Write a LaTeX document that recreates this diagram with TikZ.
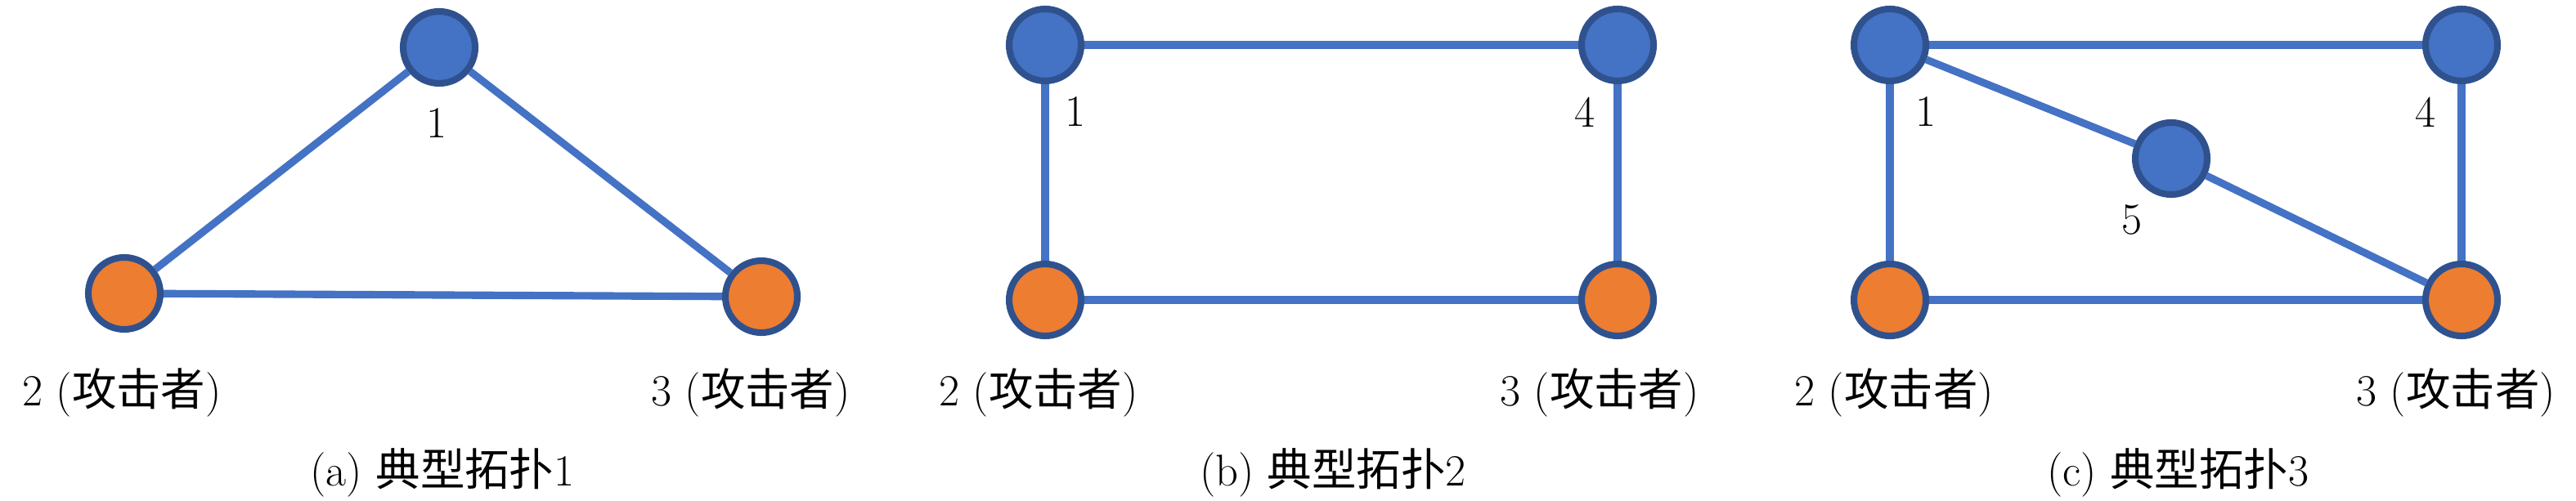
\documentclass[tikz,border=0pt]{standalone}
\usepackage{fontspec}
\newfontfamily\cjk{Noto Sans CJK SC}
\usepackage{tikz}
\usetikzlibrary{shapes.geometric, positioning, backgrounds}
\definecolor{nodeblue}{HTML}{4472C4}
\definecolor{rimblue}{HTML}{2F528F}
\definecolor{nodeorange}{HTML}{ED7D31}
\tikzstyle{honest} = [circle, draw=rimblue, fill=nodeblue, line width=2.3pt, minimum size=0.88cm, inner sep=0pt]
\tikzstyle{attacker} = [circle, draw=rimblue, fill=nodeorange, line width=2.3pt, minimum size=0.88cm, inner sep=0pt]
\tikzstyle{link} = [draw=nodeblue, line width=2.6pt]
\tikzstyle{lbl} = [font=\fontsize{15.5}{18}\selectfont, inner sep=0pt]
\newcommand{\atk}[1]{#1 ({\cjk 攻击者})}

\begin{document}
\begin{tikzpicture}
\useasboundingbox (0, 0) rectangle (31.5, 6.12);

% (a)
\node (a1) [honest] at (5.37, 5.54) {};
\node (a2) [attacker] at (1.52, 2.53) {};
\node (a3) [attacker] at (9.31, 2.49) {};
\begin{scope}[on background layer]
\draw[link] (a1) -- (a2);
\draw[link] (a1) -- (a3);
\draw[link] (a2) -- (a3);
\end{scope}
\node (la1) [lbl] at (5.34, 4.62) {1};
\node (la2) [lbl] at (1.49, 1.32) {\atk{2}};
\node (la3) [lbl] at (9.18, 1.32) {\atk{3}};
\node (capa) [lbl] at (5.41, 0.34) {(a) {\cjk 典型拓扑}1};

% (b)
\node (b1) [honest] at (12.78, 5.57) {};
\node (b4) [honest] at (19.78, 5.57) {};
\node (b2) [attacker] at (12.78, 2.45) {};
\node (b3) [attacker] at (19.78, 2.45) {};
\begin{scope}[on background layer]
\draw[link] (b1) -- (b4);
\draw[link] (b1) -- (b2);
\draw[link] (b4) -- (b3);
\draw[link] (b2) -- (b3);
\end{scope}
\node (lb1) [lbl] at (13.15, 4.75) {1};
\node (lb4) [lbl] at (19.38, 4.75) {4};
\node (lb2) [lbl] at (12.70, 1.32) {\atk{2}};
\node (lb3) [lbl] at (19.56, 1.32) {\atk{3}};
\node (capb) [lbl] at (16.30, 0.34) {(b) {\cjk 典型拓扑}2};

% (c)
\node (c1) [honest] at (23.11, 5.57) {};
\node (c4) [honest] at (30.10, 5.57) {};
\node (c5) [honest] at (26.55, 4.18) {};
\node (c2) [attacker] at (23.11, 2.45) {};
\node (c3) [attacker] at (30.10, 2.45) {};
\begin{scope}[on background layer]
\draw[link] (c1) -- (c4);
\draw[link] (c1) -- (c2);
\draw[link] (c4) -- (c3);
\draw[link] (c2) -- (c3);
\draw[link] (c1) -- (c5);
\draw[link] (c5) -- (c3);
\end{scope}
\node (lc1) [lbl] at (23.55, 4.75) {1};
\node (lc4) [lbl] at (29.66, 4.75) {4};
\node (lc5) [lbl] at (26.07, 3.43) {5};
\node (lc2) [lbl] at (23.16, 1.32) {\atk{2}};
\node (lc3) [lbl] at (30.03, 1.32) {\atk{3}};
\node (capc) [lbl] at (26.63, 0.34) {(c) {\cjk 典型拓扑}3};
\end{tikzpicture}
\end{document}
